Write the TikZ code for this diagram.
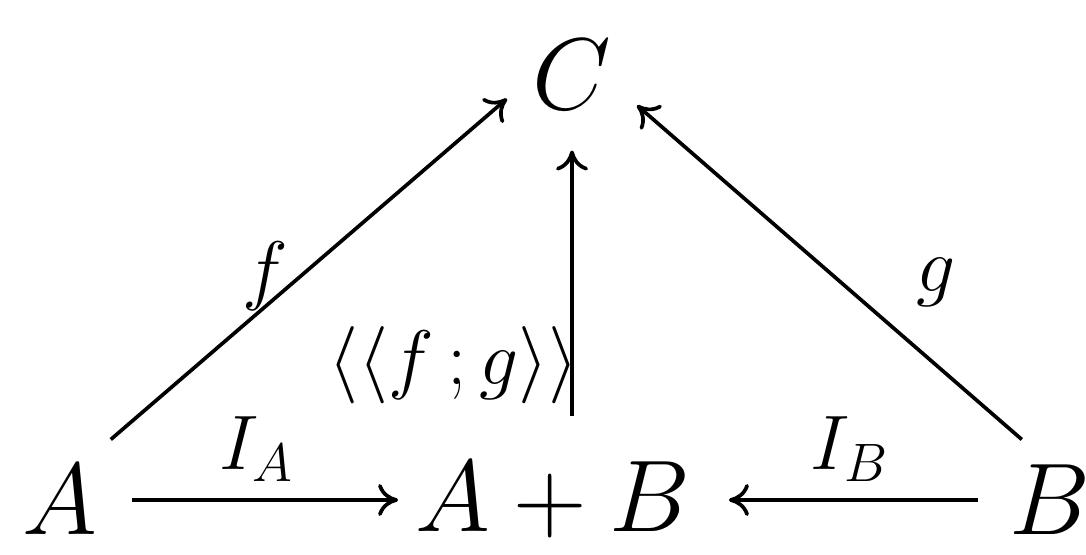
\documentclass[tikz,border=0pt]{standalone}
\usepackage{fix-cm}
\usepackage{tikz}
\usetikzlibrary{arrows.meta}

\begin{document}
\begin{tikzpicture}[x=1cm, y=1cm,
        obj/.style={inner sep=0.25cm, font=\fontsize{29}{35}\selectfont},
        lbl/.style={font=\fontsize{22}{26}\selectfont},
        line/.style={draw, -{To[length=2mm, width=3.2mm]}, line width=1.05pt}]

        \useasboundingbox (0,0) rectangle (10.86,-5.55);

        \node [obj] (C) at (5.72,-0.75) {$C$};
        \node [obj] (A) at (0.60,-5.00) {$A$};
        \node [obj] (AB) at (5.53,-5.00) {$A+B$};
        \node [obj] (B) at (10.50,-5.00) {$B$};

        \path [line] (A.50) -- node [lbl, pos=0.39, yshift=0.3cm] {$f$} (C.200);
        \path [line] (B.115) -- node [lbl, pos=0.47, xshift=0.95cm] {$g$} (C.-25);
        \path [line, shorten <=0.2cm, shorten >=0.15cm] (AB.north -| C) -- node [lbl, pos=0.236, anchor=east, xshift=0.2cm] {$\langle\langle f\,; g\rangle\rangle$} (C);
        \path [line, shorten <=0.09cm, shorten >=-0.08cm] (A) -- node [lbl, above, yshift=0.05cm] {$I_A$} (AB);
        \path [line, shorten <=0.06cm, shorten >=0.13cm] (B) -- node [lbl, above, yshift=0.05cm] {$I_B$} (AB);
\end{tikzpicture}
\end{document}
